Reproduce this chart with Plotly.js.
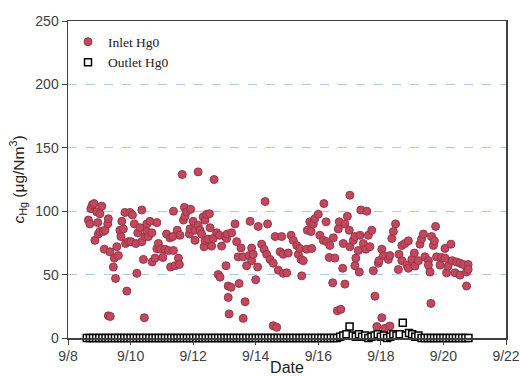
<!DOCTYPE html>
<html>
<head>
<meta charset="utf-8">
<script src="https://cdn.plot.ly/plotly-3.0.1.min.js"></script>
<style>html,body{margin:0;padding:0;background:#fff;}#chart{width:520px;height:376px;}</style>
</head>
<body>
<div id="chart"></div>
<script>
// Day of September (fractional) and inlet Hg0 concentration (µg/Nm3)
const inletDay = [8.65,8.70,8.73,8.78,8.83,8.86,8.92,8.95,8.97,9.02,9.02,9.08,9.13,9.16,9.18,9.27,9.29,9.29,9.34,9.35,
9.45,9.48,9.52,9.56,9.61,9.66,9.69,9.72,9.77,9.82,9.84,9.88,9.93,9.98,10.01,10.06,10.12,10.17,10.20,10.23,
10.30,10.36,10.36,10.41,10.44,10.46,10.52,10.52,10.57,10.62,10.68,10.69,10.78,10.84,10.84,10.89,10.96,11.03,11.10,11.15,
11.21,11.26,11.28,11.35,11.37,11.37,11.42,11.49,11.53,11.56,11.58,11.65,11.69,11.72,11.74,11.79,11.88,11.90,11.92,12.00,
12.06,12.06,12.16,12.16,12.22,12.27,12.32,12.35,12.38,12.38,12.43,12.48,12.52,12.54,12.59,12.64,12.67,12.75,12.80,12.84,
12.86,12.91,13.02,13.05,13.07,13.09,13.12,13.12,13.15,13.21,13.23,13.34,13.39,13.44,13.47,13.53,13.60,13.60,13.66,13.71,
13.79,13.82,13.87,13.87,13.92,14.00,14.06,14.08,14.19,14.27,14.30,14.35,14.38,14.46,14.56,14.56,14.62,14.67,14.72,14.78,
14.83,14.88,14.88,14.99,15.04,15.13,15.20,15.31,15.36,15.41,15.45,15.47,15.52,15.63,15.65,15.73,15.77,15.79,15.84,15.89,
16.00,16.05,16.16,16.18,16.25,16.27,16.35,16.37,16.46,16.48,16.53,16.61,16.64,16.67,16.72,16.78,16.80,16.85,16.85,16.93,
16.99,17.01,17.01,17.12,17.17,17.17,17.20,17.28,17.31,17.33,17.36,17.44,17.52,17.55,17.60,17.65,17.71,17.76,17.81,17.87,
17.92,17.94,18.03,18.03,18.08,18.13,18.24,18.29,18.29,18.35,18.40,18.47,18.56,18.58,18.67,18.67,18.77,18.83,18.88,18.88,
18.99,19.07,19.09,19.20,19.25,19.30,19.36,19.41,19.52,19.52,19.57,19.60,19.62,19.68,19.71,19.75,19.78,19.89,19.94,20.05,
20.05,20.10,20.15,20.24,20.28,20.37,20.42,20.53,20.53,20.63,20.74,20.74,20.79,20.79];
const inletVal = [93,90,102,105,106,77,99.5,91,82,98,84,104,84,70,85,90,94,17.5,68,17,
56,63,47,72,65,85,80,92,86,99,74.5,37,76,99,76,97,90,74.5,51,83,
87,101,76,62,16,80,90,84,80,92,83,60,63,91,70.5,74.5,70,63.5,70,82,
69,79,56,80,100,69,57,85,63,58,81,129,93,103,96,99.5,82,86,101.5,92,
85,77,131,89,85,82,95.5,72,93,77,97.5,78,98,87,72.5,78.5,125,83,50,81,
48,72.5,80,57,78.5,82,41,32,19,40,83,90,76,64,43,71,64,15.5,28.6,57,
65,92,71,61,66,46,56,88,74,70,107.6,66,90,62,59,9.7,80,8.4,53.5,68,
80,66,51,51.4,67,81,77,73,66,70.6,62,49,61,70,85,91.6,84,70.6,90,94,
97.6,81,77,106,91.6,76,63.5,73,43.5,79,63,21.5,86,91.6,22.6,55,74.5,90,42.5,96,
85,112.6,72,77,80,57,63,69,52,81,101,74.5,70,100,81,72,85,53,33,9,
59,61,70,16,65,7.6,62,65,9.4,78.5,84,90,54,66,73,61,74.5,57.5,76.6,55,
62,67,56.7,61,74,78,82,64,61,57.5,52,27.3,80,73,76.6,88,64,57.5,63.5,70.6,
63,51.4,56.7,74,61,51.4,60,59,49.6,58,52,41,58,54];

// Outlet Hg0 concentration (µg/Nm3)
const outletDay = [8.6,8.7,8.8,8.9,9.0,9.1,9.2,9.3,9.4,9.5,9.6,9.7,9.8,9.9,10.0,10.1,10.2,10.3,10.4,10.5,
10.6,10.7,10.8,10.9,11.0,11.1,11.2,11.3,11.4,11.5,11.6,11.7,11.8,11.9,12.0,12.1,12.2,12.3,12.4,12.5,
12.6,12.7,12.8,12.9,13.0,13.1,13.2,13.3,13.4,13.5,13.6,13.7,13.8,13.9,14.0,14.1,14.2,14.3,14.4,14.5,
14.6,14.7,14.8,14.9,15.0,15.1,15.2,15.3,15.4,15.5,15.6,15.7,15.8,15.9,16.0,16.1,16.2,16.3,16.4,16.5,
16.6,16.7,16.8,16.9,17.0,17.1,17.2,17.3,17.4,17.5,17.6,17.7,17.8,17.9,18.0,18.1,18.2,18.3,18.4,18.5,
18.6,18.7,18.8,18.9,19.0,19.1,19.2,19.3,19.4,19.5,19.6,19.7,19.8,19.9,20.0,20.1,20.2,20.3,20.4,20.5,
20.6,20.7,20.8];
const outletVal = [0,0,0,0,0,0,0,0,0,0,0,0,0,0,0,0,0,0,0,0,
0,0,0,0,0,0,0,0,0,0,0,0,0,0,0,0,0,0,0,0,
0,0,0,0,0,0,0,0,0,0,0,0,0,0,0,0,0,0,0,0,
0,0,0,0,0,0,0,0,0,0,0,0,0,0,0,0,0,0,0,0,
0,1,2,3,9,2,1,3,1,2,0,1,2,3,1,2,0,1,3,2,
3,12,2,4,3,1,2,0,0,0,0,0,0,0,0,0,0,0,0,0,
0,0,0];

const xTickVals = [8,10,12,14,16,18,20,22];
const xTickText = ['9/8','9/10','9/12','9/14','9/16','9/18','9/20','9/22'];

const traces = [
  {x: inletDay, y: inletVal, type: 'scatter', mode: 'markers', name: 'Inlet Hg0',
   marker: {symbol: 'circle', size: 8, color: '#c0495e', line: {color: '#9c3347', width: 1}},
   cliponaxis: false},
  {x: outletDay, y: outletVal, type: 'scatter', mode: 'markers', name: 'Outlet Hg0',
   marker: {symbol: 'square', size: 7, color: '#ffffff', line: {color: '#000000', width: 1.5}},
   cliponaxis: false}
];

const axisFont = {family: 'Liberation Sans, Arial, sans-serif', size: 14, color: '#404040'};
const layout = {
  width: 520, height: 376,
  margin: {l: 68, r: 14, t: 21, b: 38},
  paper_bgcolor: '#ffffff', plot_bgcolor: '#ffffff',
  showlegend: true,
  legend: {x: 0.0, y: 0.983, xanchor: 'left', yanchor: 'top', bgcolor: 'rgba(0,0,0,0)',
    font: {family: 'Liberation Serif, Times New Roman, serif', size: 13.5, color: '#222'},
    itemwidth: 30, tracegroupgap: 0},
  xaxis: {range: [8, 22], tickvals: xTickVals, ticktext: xTickText,
    showgrid: false, zeroline: false, showline: true, linecolor: '#404040', linewidth: 1.5,
    mirror: true, ticks: 'outside', ticklen: 5, tickcolor: '#404040', tickfont: axisFont,
    title: {text: 'Date', font: {family: 'Liberation Sans, Arial, sans-serif', size: 16, color: '#222'}, standoff: 5}},
  yaxis: {range: [0, 250], dtick: 50, showgrid: true, gridcolor: '#a9cbe6', griddash: 'dash', gridwidth: 1,
    zeroline: false, showline: true, linecolor: '#404040', linewidth: 1.5, mirror: true,
    ticks: 'outside', ticklen: 5, tickcolor: '#404040', tickfont: axisFont,
    title: {text: '<i>c</i><sub>Hg</sub> (μg/Nm<sup>3</sup>)', font: {family: 'Liberation Sans, Arial, sans-serif', size: 15.5, color: '#222'}, standoff: 7}}
};

Plotly.newPlot('chart', traces, layout, {staticPlot: true, displayModeBar: false});
</script>
</body>
</html>
